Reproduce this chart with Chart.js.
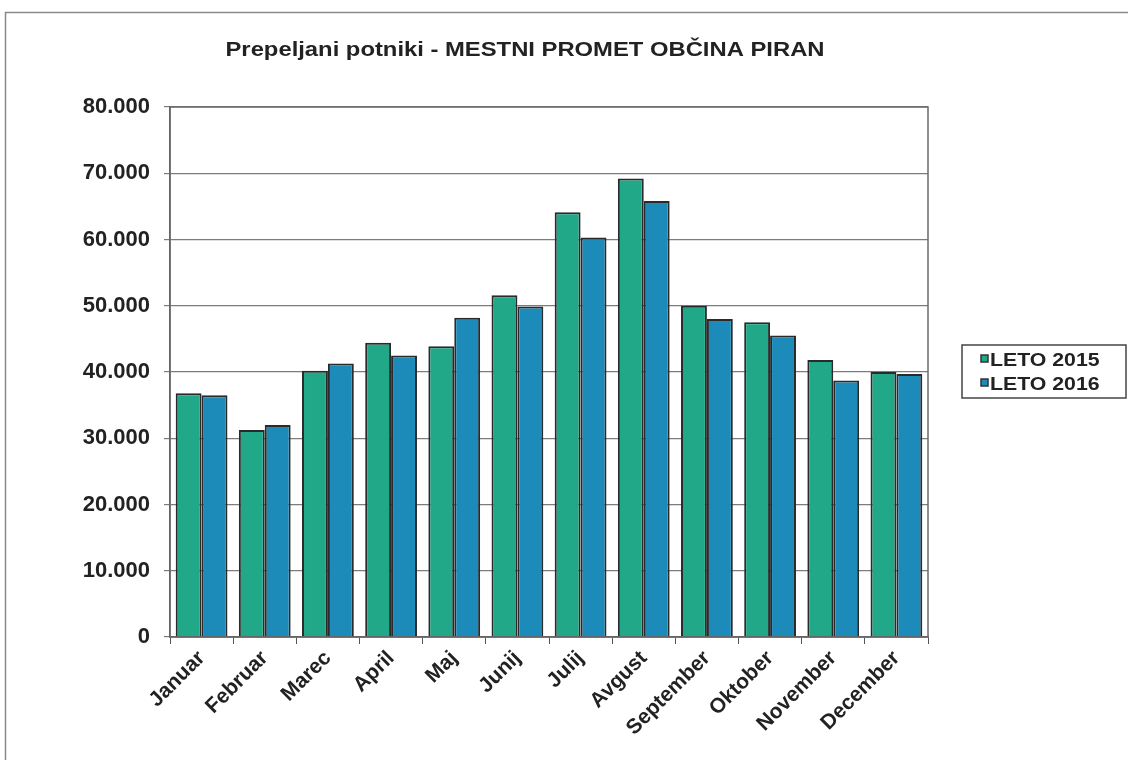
<!DOCTYPE html>
<html><head><meta charset="utf-8">
<script src="https://cdn.jsdelivr.net/npm/chart.js@4/dist/chart.umd.min.js"></script>
<style>html,body{margin:0;padding:0;background:#fff}#wrap{width:1128px;height:760px}</style>
</head><body><div id="wrap"><canvas id="c" width="1128" height="760"></canvas></div>
<script>
const months = ['Januar','Februar','Marec','April','Maj','Junij','Julij','Avgust','September','Oktober','November','December'];
const leto2015 = [36800, 31250, 40200, 44400, 43900, 51600, 64100, 69200, 50000, 47500, 41800, 40000];
const leto2016 = [36500, 32000, 41300, 42500, 48200, 49900, 60300, 65800, 48000, 45500, 38700, 39700];
const seriesNames = ['LETO 2015', 'LETO 2016'];
const yTicks = [0, 10000, 20000, 30000, 40000, 50000, 60000, 70000, 80000];
const titleText = 'Prepeljani potniki - MESTNI PROMET OBČINA PIRAN';

const FONT = '"Liberation Sans", Arial, sans-serif';
const GREEN = '#20a888';
const BLUE = '#1c8bba';

function fmt(v){
  if (v === 0) return '0';
  return String(v).replace(/\B(?=(\d{3})+(?!\d))/g, '.');
}

const decor = {
  id: 'decor',
  beforeDraw(chart){
    const ctx = chart.ctx;
    ctx.save();
    ctx.fillStyle = '#fff';
    ctx.fillRect(0,0,chart.width,chart.height);
    ctx.strokeStyle = '#8a8a8a';
    ctx.lineWidth = 1.5;
    ctx.strokeRect(5.5, 12.5, 1140, 800);
    ctx.restore();
  },
  afterDraw(chart){
    const ctx = chart.ctx;
    const a = chart.chartArea;
    ctx.save();
    // plot border
    ctx.strokeStyle = '#6a6a6a';
    ctx.lineWidth = 1.5;
    ctx.strokeRect(a.left, a.top, a.right - a.left, a.bottom - a.top);
    // title (horizontally widened like the source)
    ctx.save();
    ctx.translate(525, 56);
    ctx.scale(1.19, 1);
    ctx.fillStyle = '#222';
    ctx.font = 'bold 20px ' + FONT;
    ctx.textAlign = 'center';
    ctx.textBaseline = 'alphabetic';
    ctx.fillText(titleText, 0, 0);
    ctx.restore();
    // legend
    const lx = 962, ly = 345, lw = 164, lh = 53;
    ctx.strokeStyle = '#444';
    ctx.lineWidth = 1.5;
    ctx.strokeRect(lx, ly, lw, lh);
    ctx.textAlign = 'left';
    ctx.textBaseline = 'alphabetic';
    chart.data.datasets.forEach((ds, i) => {
      const base = 366 + i * 24;
      ctx.fillStyle = ds.backgroundColor;
      ctx.fillRect(981, base - 11, 7, 7);
      ctx.strokeStyle = '#333';
      ctx.lineWidth = 1.5;
      ctx.strokeRect(981, base - 11, 7, 7);
      ctx.save();
      ctx.translate(990, base);
      ctx.scale(1.12, 1);
      ctx.fillStyle = '#222';
      ctx.font = 'bold 19px ' + FONT;
      ctx.fillText(ds.label, 0, 0);
      ctx.restore();
    });
    ctx.restore();
  }
};

new Chart(document.getElementById('c'), {
  type: 'bar',
  data: {
    labels: months,
    datasets: [
      { label: seriesNames[0], data: leto2015, backgroundColor: GREEN, borderColor: '#2a2a2a', borderWidth: 2 },
      { label: seriesNames[1], data: leto2016, backgroundColor: BLUE, borderColor: '#2a2a2a', borderWidth: 2 }
    ]
  },
  options: {
    responsive: false,
    animation: false,
    devicePixelRatio: 1,
    layout: { padding: { left: 10, top: 107, right: 200, bottom: 3 } },
    plugins: { legend: { display: false }, title: { display: false }, tooltip: { enabled: false } },
    datasets: { bar: { barPercentage: 1.0, categoryPercentage: 0.82 } },
    scales: {
      x: {
        offset: true,
        grid: { display: true, drawOnChartArea: false, offset: true, tickLength: 7, color: '#555', lineWidth: 1 },
        border: { display: true, color: '#555', width: 1.5 },
        ticks: { color: '#222', font: { family: FONT, weight: 'bold', size: 21 }, minRotation: 45, maxRotation: 45, autoSkip: false, padding: 2 },
        afterFit(s){ s.height = 120; }
      },
      y: {
        min: 0, max: 80000,
        afterBuildTicks(s){ s.ticks = yTicks.map(v => ({ value: v })); },
        grid: { color: '#7c7c7c', lineWidth: 1.2, tickLength: 6, drawTicks: true },
        border: { display: true, color: '#555', width: 1.5 },
        ticks: { color: '#222', font: { family: FONT, weight: 'bold', size: 22 }, padding: 14, callback: v => fmt(v) },
        afterFit(s){ s.width = 160; }
      }
    }
  },
  plugins: [decor]
});
</script>
</body></html>
